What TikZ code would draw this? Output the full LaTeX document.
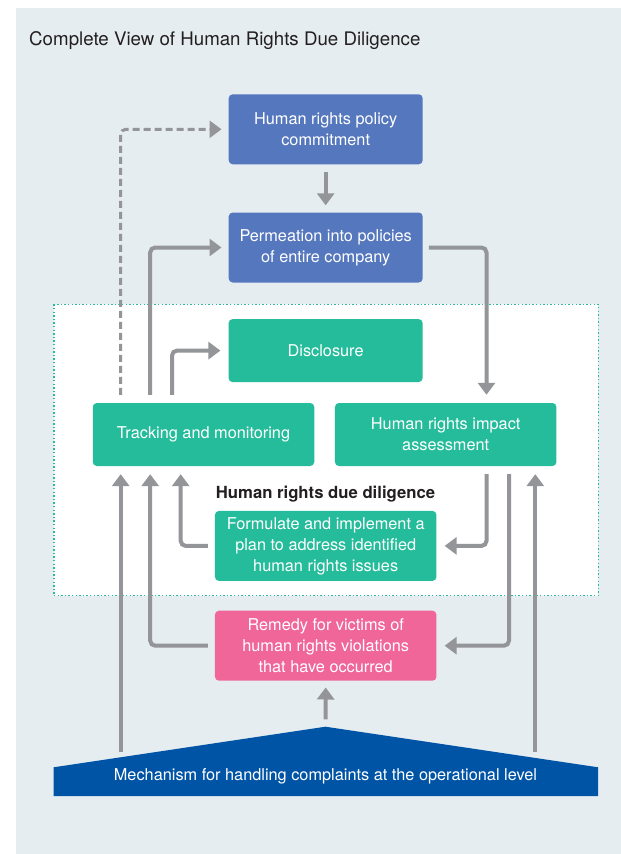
\documentclass[tikz,border=0pt]{standalone}
\usepackage{fontspec}
\setmainfont{TeX Gyre Heros}
\usetikzlibrary{arrows.meta}
\definecolor{panel}{HTML}{E5EDF1}
\definecolor{boxblue}{HTML}{5577BE}
\definecolor{boxgreen}{HTML}{25BC9B}
\definecolor{boxpink}{HTML}{F06699}
\definecolor{mechblue}{HTML}{0054A6}
\definecolor{arrgray}{HTML}{939598}
\definecolor{titlegray}{HTML}{231F20}
\begin{document}
\begin{tikzpicture}[x=1pt,y=-1pt,
  box/.style={rounded corners=4pt, text=white, align=center, inner sep=0pt,
    font=\fontsize{16.3}{21}\selectfont},
  bluebox/.style={box, fill=boxblue, minimum width=194pt, minimum height=70pt},
  greenbox/.style={box, fill=boxgreen},
  pinkbox/.style={box, fill=boxpink},
  arr/.style={draw=arrgray, line width=4pt, rounded corners=5pt,
    -{Triangle[width=17pt,length=12pt]}},
  dasharr/.style={arr, line width=3pt, dash pattern=on 7pt off 4pt},
]
\useasboundingbox (0,0) rectangle (621,854);
\fill[panel] (16,8) rectangle (621,854);

% title
\node[anchor=west, text=titlegray, inner sep=0pt, font=\fontsize{18.7}{22}\selectfont] (title) at (29,41) {Complete View of Human Rights Due Diligence};

% due diligence frame
\draw[fill=white, draw=boxgreen, line width=1.4pt, dash pattern=on 1.4pt off 2.2pt] (53.8,304.3) rectangle (598.2,595.7);

% boxes
\node[bluebox] (pol) at (325.7,129.3) {Human rights policy\\commitment};
\node[bluebox] (perm) at (325.7,247.5) {Permeation into policies\\of entire company};
\node[greenbox, minimum width=194pt, minimum height=63pt] (disc) at (325.6,350.6) {Disclosure};
\node[greenbox, minimum width=221.5pt, minimum height=63pt] (track) at (203.5,434.5) {Tracking and monitoring};
\node[greenbox, minimum width=221.5pt, minimum height=63pt] (hria) at (445.7,434.5) {Human rights impact\\assessment};
\node[text=titlegray, inner sep=0pt, font=\fontsize{16.7}{20}\selectfont\bfseries] (dd) at (325.5,494) {Human rights due diligence};
\node[greenbox, minimum width=221.5pt, minimum height=70pt] (form) at (325.7,545.9) {Formulate and implement a\\plan to address identified\\human rights issues};
\node[pinkbox, minimum width=221.5pt, minimum height=70pt] (rem) at (325.7,645.7) {Remedy for victims of\\human rights violations\\that have occurred};

% mechanism shape
\coordinate (mbl) at (53.5,796);
\coordinate (mtl) at (53.5,767.3);
\coordinate (mtop) at (325.5,726.7);
\coordinate (mtr) at (598.2,767.3);
\coordinate (mbr) at (598.2,796);
\fill[mechblue] (mbl) -- (mtl) -- (mtop) -- (mtr) -- (mbr) -- cycle;
\node[text=white, inner sep=0pt, font=\fontsize{16.3}{20}\selectfont] (mech) at (325.5,776) {Mechanism for handling complaints at the operational level};

% lanes
\coordinate (lA) at (120.7,0);
\coordinate (lB) at (150.2,0);
\coordinate (lC) at (180.7,0);
\coordinate (lD) at (172,0);
\coordinate (rA) at (486.5,0);
\coordinate (rB) at (509,0);
\coordinate (rC) at (535.3,0);
\coordinate (mA) at (120.7,752);
\coordinate (mC) at (535.3,752);

% connectors
\draw[arr] ([yshift=-7pt]pol.south) -- ([yshift=7pt]perm.north);
\draw[dasharr] ([yshift=8pt]track.north -| lA) |- ([xshift=-7pt]pol.west);
\draw[arr] ([yshift=8pt]track.north -| lB) |- ([xshift=-7pt]perm.west);
\draw[arr] ([xshift=6pt]perm.east) -| ([yshift=8pt]hria.north -| rA);
\draw[arr] ([yshift=8pt]track.north -| lD) |- ([xshift=-8pt]disc.west);
\draw[arr] ([yshift=-8pt]hria.south -| rA) |- ([xshift=8pt]form.east);
\draw[arr] ([xshift=-7pt]form.west) -| ([yshift=-8pt]track.south -| lC);
\draw[arr] ([yshift=-8pt]hria.south -| rB) |- ([xshift=8pt]rem.east);
\draw[arr] ([xshift=-7pt]rem.west) -| ([yshift=-8pt]track.south -| lB);
\draw[arr] (mA) -- ([yshift=-8pt]track.south -| lA);
\draw[arr] (mC) -- ([yshift=-8pt]hria.south -| rC);
\draw[arr] ([yshift=7.4pt]mtop) -- ([yshift=-6.6pt]rem.south);
\end{tikzpicture}
\end{document}
